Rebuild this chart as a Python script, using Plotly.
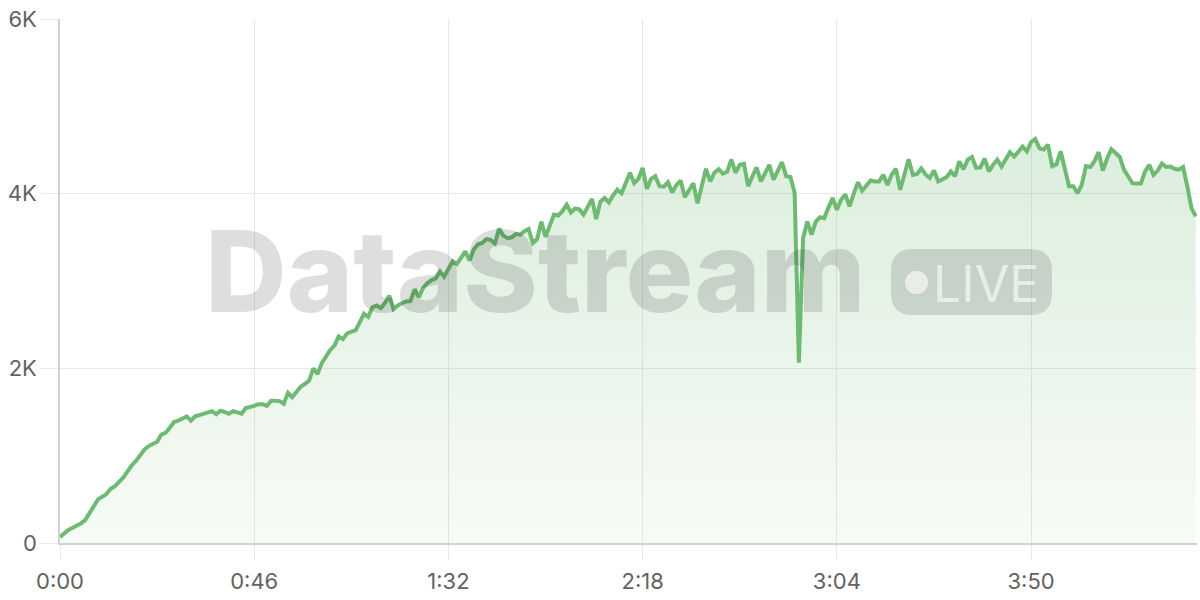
import plotly.graph_objects as go

# ---- data (seconds since start, value) ----
values = [
    70, 110, 150, 175, 200, 225, 265, 340, 420, 500,
    530, 560, 620, 650, 700, 750, 820, 890, 940, 1000,
    1070, 1110, 1140, 1160, 1240, 1260, 1320, 1385, 1400, 1420,
    1450, 1400, 1450, 1465, 1480, 1490, 1510, 1475, 1515, 1500,
    1480, 1510, 1490, 1480, 1545, 1555, 1570, 1590, 1590, 1570,
    1630, 1630, 1625, 1595, 1720, 1670, 1740, 1790, 1820, 1860,
    2000, 1935, 2060, 2140, 2210, 2260, 2365, 2335, 2400, 2420,
    2435, 2530, 2625, 2590, 2700, 2720, 2690, 2750, 2830, 2680,
    2720, 2745, 2765, 2770, 2905, 2815, 2920, 2975, 3010, 3030,
    3110, 3050, 3150, 3225, 3195, 3270, 3340, 3235, 3360, 3420,
    3435, 3480, 3470, 3430, 3600, 3520, 3490, 3500, 3540, 3530,
    3570, 3595, 3435, 3480, 3680, 3505, 3640, 3760, 3750, 3800,
    3875, 3785, 3830, 3820, 3760, 3850, 3940, 3710, 3910, 3950,
    3900, 3980, 4045, 4005, 4130, 4240, 4120, 4170, 4295, 4055,
    4170, 4200, 4085, 4080, 4130, 4015, 4100, 4150, 3960, 4040,
    4120, 3890, 4100, 4285, 4140, 4240, 4280, 4230, 4250, 4390,
    4240, 4330, 4340, 4085, 4200, 4300, 4140, 4240, 4330, 4160,
    4260, 4360, 4200, 4190, 4010, 2065, 3490, 3680, 3530, 3680,
    3730, 3720, 3840, 3950, 3815, 3930, 3990, 3855, 4000, 4130,
    4035, 4100, 4150, 4140, 4140, 4215, 4100, 4220, 4285, 4045,
    4230, 4395, 4215, 4225, 4290, 4220, 4180, 4265, 4140, 4170,
    4190, 4255, 4200, 4370, 4280, 4390, 4420, 4295, 4300, 4400,
    4255, 4330, 4390, 4310, 4400, 4475, 4425, 4490, 4540, 4485,
    4590, 4625, 4520, 4505, 4560, 4315, 4335, 4485, 4280, 4085,
    4085, 4005, 4100, 4315, 4305, 4370, 4475, 4265, 4400, 4510,
    4465, 4420, 4275, 4205, 4120, 4115, 4115, 4255, 4330, 4215,
    4265, 4345, 4305, 4310, 4285, 4275, 4305, 4085, 3835, 3740,
]
seconds = list(range(len(values)))

x_tick_vals = [0, 46, 92, 138, 184, 230]
x_tick_text = ["0:00", "0:46", "1:32", "2:18", "3:04", "3:50"]
y_tick_vals = [0, 2000, 4000, 6000]
y_tick_text = ["0", "2K", "4K", "6K"]

# ---- layout geometry (pixels) ----
W, H = 1200, 600
ML, MR, MT, MB = 60, 3, 19, 57
PW, PH = W - ML - MR, H - MT - MB


def px(X):
    return (X - ML) / PW


def py(Y):
    return (H - MB - Y) / PH


def rounded_rect(x0, y0, x1, y1, r):
    pts = [
        f"M {px(x0 + r)},{py(y0)}",
        f"L {px(x1 - r)},{py(y0)}",
        f"Q {px(x1)},{py(y0)} {px(x1)},{py(y0 + r)}",
        f"L {px(x1)},{py(y1 - r)}",
        f"Q {px(x1)},{py(y1)} {px(x1 - r)},{py(y1)}",
        f"L {px(x0 + r)},{py(y1)}",
        f"Q {px(x0)},{py(y1)} {px(x0)},{py(y1 - r)}",
        f"L {px(x0)},{py(y0 + r)}",
        f"Q {px(x0)},{py(y0)} {px(x0 + r)},{py(y0)}",
        "Z",
    ]
    return " ".join(pts)


GREEN = "#6fba73"

fig = go.Figure()
fig.add_trace(
    go.Scatter(
        x=seconds,
        y=values,
        mode="lines",
        line=dict(color=GREEN, width=4),
        fill="tozeroy",
        fillgradient=dict(
            type="vertical",
            start=0,
            stop=4600,
            colorscale=[
                [0, "rgba(111,186,115,0.06)"],
                [1, "rgba(111,186,115,0.25)"],
            ],
        ),
        hoverinfo="skip",
        showlegend=False,
    )
)

WM = "rgba(0,0,0,0.13)"

fig.add_annotation(
    text="DataStream",
    xref="paper", yref="paper",
    x=px(535), y=py(271),
    xanchor="center", yanchor="middle",
    showarrow=False,
    font=dict(family="Inter", size=113, color=WM, weight=800),
)

fig.add_shape(
    type="path",
    xref="paper", yref="paper",
    path=rounded_rect(891, 249, 1052, 315, 22),
    fillcolor=WM,
    line=dict(width=0),
    layer="above",
)
fig.add_shape(
    type="circle",
    xref="paper", yref="paper",
    x0=px(905), x1=px(928), y0=py(271), y1=py(294),
    fillcolor="rgba(255,255,255,0.6)",
    line=dict(width=0),
    layer="above",
)
fig.add_annotation(
    text="LIVE",
    xref="paper", yref="paper",
    x=px(986), y=py(284),
    xanchor="center", yanchor="middle",
    showarrow=False,
    font=dict(family="Inter", size=50, color="rgba(255,255,255,0.6)", weight=400),
)

TICKFONT = dict(family="Inter", size=22, color="#626262")

fig.update_layout(
    width=W, height=H,
    margin=dict(l=ML, r=MR, t=MT, b=MB, pad=0),
    paper_bgcolor="white",
    plot_bgcolor="white",
    xaxis=dict(
        range=[0, 269.3],
        tickmode="array",
        tickvals=x_tick_vals,
        ticktext=x_tick_text,
        showgrid=True,
        gridcolor="#e8e8e8",
        gridwidth=1,
        zeroline=False,
        showline=True,
        linecolor="#d2d2d2",
        linewidth=1.5,
        ticks="outside",
        ticklen=15,
        tickcolor="#e8e8e8",
        tickwidth=1,
        ticklabelstandoff=3,
        tickfont=TICKFONT,
        automargin=False,
        fixedrange=True,
    ),
    yaxis=dict(
        range=[0, 6000],
        tickmode="array",
        tickvals=y_tick_vals,
        ticktext=y_tick_text,
        showgrid=True,
        gridcolor="#e8e8e8",
        gridwidth=1,
        zeroline=False,
        showline=True,
        linecolor="#d2d2d2",
        linewidth=1.5,
        ticks="outside",
        ticklen=17,
        tickcolor="#e8e8e8",
        tickwidth=1,
        tickfont=TICKFONT,
        automargin=False,
        fixedrange=True,
    ),
)

fig.write_html(
    "out.html",
    config={"displayModeBar": False},
    post_script="document.body.style.margin='0';document.body.style.overflow='hidden';",
)
